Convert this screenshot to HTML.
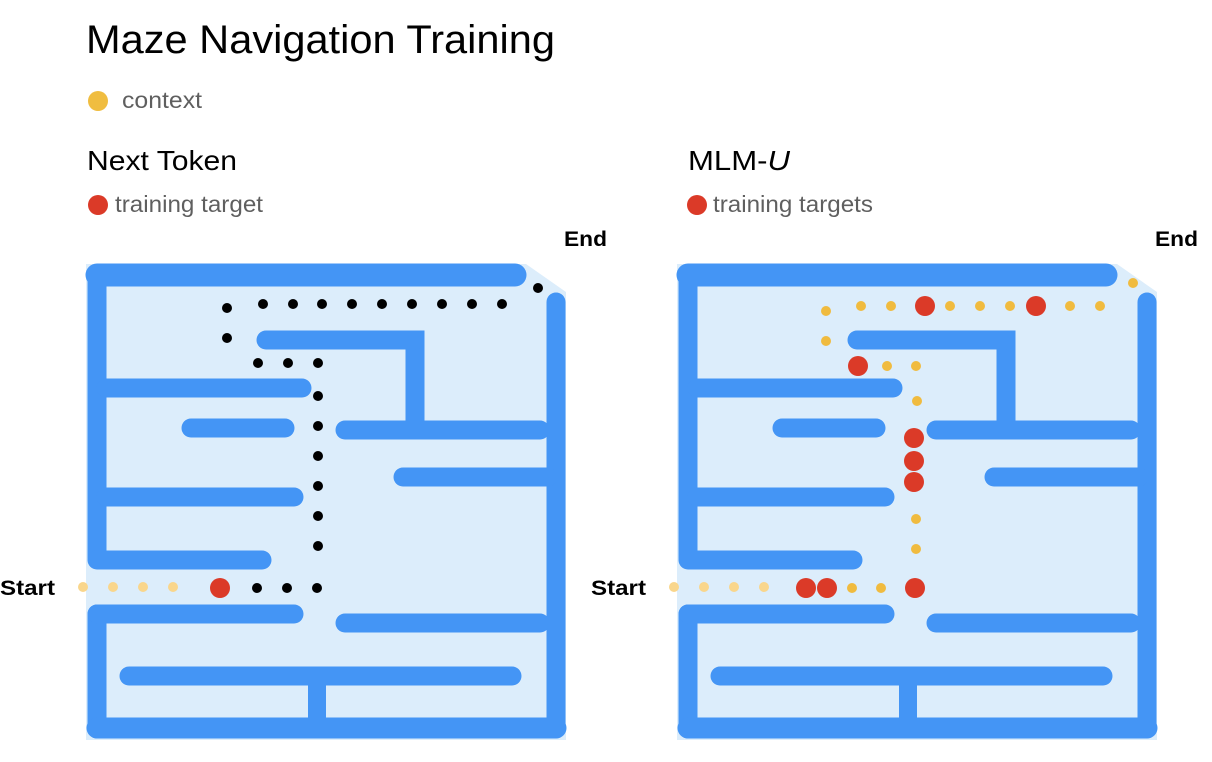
<!DOCTYPE html>
<html><head><meta charset="utf-8"><style>
html,body{margin:0;padding:0;background:#fff;}
svg{display:block;}
text{font-family:"Liberation Sans",Arial,sans-serif;}
</style></head><body>
<svg width="1212" height="762" viewBox="0 0 1212 762" xmlns="http://www.w3.org/2000/svg">
<text x="86" y="53" font-size="40" fill="#000" textLength="469" lengthAdjust="spacingAndGlyphs">Maze Navigation Training</text>
<circle cx="98" cy="101" r="10" fill="#f0bd40"/>
<text x="122" y="108" font-size="23" fill="#5f5f5f" textLength="80" lengthAdjust="spacingAndGlyphs">context</text>
<text x="87" y="170" font-size="28" fill="#000" textLength="150" lengthAdjust="spacingAndGlyphs">Next Token</text>
<circle cx="98" cy="205" r="10" fill="#db3a28"/>
<text x="115" y="212" font-size="23" fill="#5f5f5f" textLength="148" lengthAdjust="spacingAndGlyphs">training target</text>
<text x="688" y="170" font-size="28" fill="#000" textLength="102" lengthAdjust="spacingAndGlyphs">MLM-<tspan font-style="italic">U</tspan></text>
<circle cx="697" cy="205" r="10" fill="#db3a28"/>
<text x="713" y="212" font-size="23" fill="#5f5f5f" textLength="160" lengthAdjust="spacingAndGlyphs">training targets</text>

<defs>
<g id="maze">
  <polygon points="86,264 526,264 566,292 566,740 86,740" fill="#dcedfb"/>
  <g stroke="#4495f5" stroke-linecap="round" fill="none">
    <line x1="97" y1="275" x2="515" y2="275" stroke-width="23"/>
    <line x1="97" y1="275" x2="97" y2="558" stroke-width="19"/>
    <line x1="97" y1="614" x2="97" y2="729" stroke-width="19"/>
    <line x1="97" y1="728" x2="556" y2="728" stroke-width="21"/>
    <line x1="556" y1="302" x2="556" y2="728" stroke-width="19"/>
    <polyline points="266,340 415,340 415,428" stroke-width="19" stroke-linecap="butt"/>
    <line x1="266" y1="340" x2="415" y2="340" stroke-width="19"/>
    <line x1="106" y1="388" x2="302" y2="388" stroke-width="19"/>
    <line x1="191" y1="428" x2="285" y2="428" stroke-width="19"/>
    <line x1="345" y1="430" x2="540" y2="430" stroke-width="19"/>
    <line x1="403" y1="477" x2="548" y2="477" stroke-width="19"/>
    <line x1="106" y1="497" x2="294" y2="497" stroke-width="19"/>
    <line x1="97" y1="560" x2="262" y2="560" stroke-width="19"/>
    <line x1="97" y1="614" x2="294" y2="614" stroke-width="19"/>
    <line x1="345" y1="623" x2="540" y2="623" stroke-width="19"/>
    <line x1="129" y1="676" x2="512" y2="676" stroke-width="19"/>
    <line x1="317" y1="676" x2="317" y2="722" stroke-width="18" stroke-linecap="butt"/>
  </g>
  <text x="564" y="246" font-size="21" font-weight="bold" fill="#000" textLength="43" lengthAdjust="spacingAndGlyphs">End</text>
  <text x="0" y="595" font-size="21" font-weight="bold" fill="#000" textLength="55" lengthAdjust="spacingAndGlyphs">Start</text>
  <g fill="#f9d68c">
    <circle cx="83" cy="587" r="5"/><circle cx="113" cy="587" r="5"/><circle cx="143" cy="587" r="5"/><circle cx="173" cy="587" r="5"/>
  </g>
</g>
</defs>

<use href="#maze"/>
<use href="#maze" transform="translate(591,0)"/>

<g fill="#000">
  <circle cx="538" cy="288" r="5"/>
  <circle cx="227" cy="308" r="5"/>
  <circle cx="263" cy="304" r="5"/><circle cx="293" cy="304" r="5"/><circle cx="322" cy="304" r="5"/><circle cx="352" cy="304" r="5"/><circle cx="382" cy="304" r="5"/><circle cx="412" cy="304" r="5"/><circle cx="442" cy="304" r="5"/><circle cx="472" cy="304" r="5"/><circle cx="502" cy="304" r="5"/>
  <circle cx="227" cy="338" r="5"/>
  <circle cx="258" cy="363" r="5"/><circle cx="288" cy="363" r="5"/><circle cx="318" cy="363" r="5"/>
  <circle cx="318" cy="396" r="5"/><circle cx="318" cy="426" r="5"/><circle cx="318" cy="456" r="5"/><circle cx="318" cy="486" r="5"/><circle cx="318" cy="516" r="5"/><circle cx="318" cy="546" r="5"/>
  <circle cx="257" cy="588" r="5"/><circle cx="287" cy="588" r="5"/><circle cx="317" cy="588" r="5"/>
</g>
<circle cx="220" cy="588" r="10" fill="#db3a28"/>

<g fill="#f0bb3f">
  <circle cx="1133" cy="283" r="5"/>
  <circle cx="826" cy="311" r="5"/>
  <circle cx="861" cy="306" r="5"/><circle cx="891" cy="306" r="5"/><circle cx="950" cy="306" r="5"/><circle cx="980" cy="306" r="5"/><circle cx="1010" cy="306" r="5"/><circle cx="1070" cy="306" r="5"/><circle cx="1100" cy="306" r="5"/>
  <circle cx="826" cy="341" r="5"/>
  <circle cx="887" cy="366" r="5"/><circle cx="916" cy="366" r="5"/>
  <circle cx="917" cy="401" r="5"/>
  <circle cx="916" cy="519" r="5"/><circle cx="916" cy="549" r="5"/>
  <circle cx="852" cy="588" r="5"/><circle cx="881" cy="588" r="5"/>
</g>
<g fill="#db3a28">
  <circle cx="925" cy="306" r="10"/><circle cx="1036" cy="306" r="10"/>
  <circle cx="858" cy="366" r="10"/>
  <circle cx="914" cy="438" r="10"/><circle cx="914" cy="461" r="10"/><circle cx="914" cy="482" r="10"/>
  <circle cx="806" cy="588" r="10"/><circle cx="827" cy="588" r="10"/><circle cx="915" cy="588" r="10"/>
</g>
</svg>
</body></html>
